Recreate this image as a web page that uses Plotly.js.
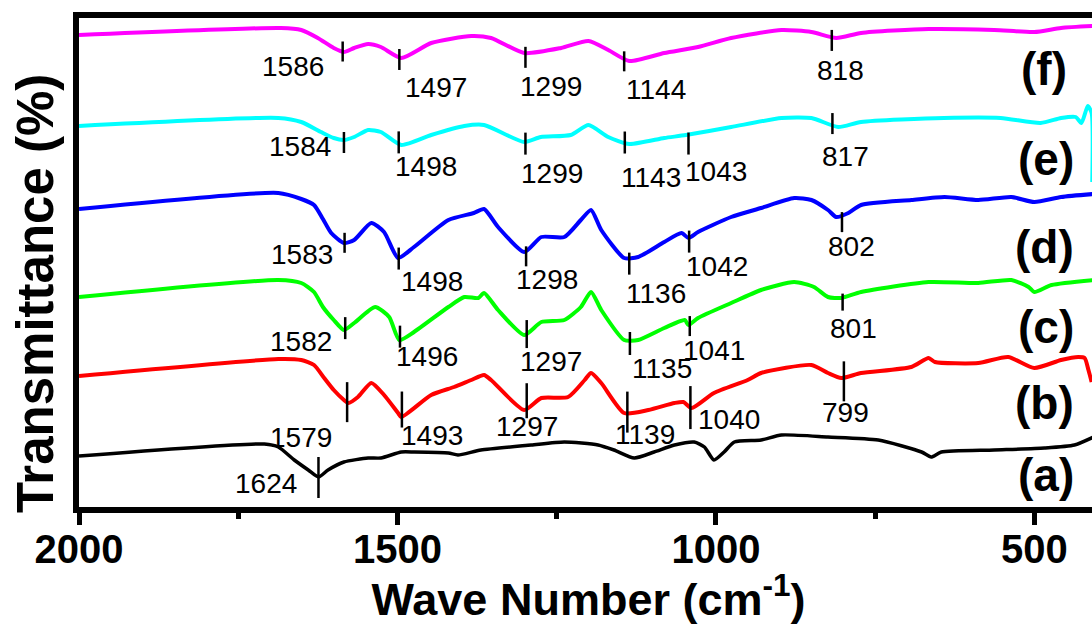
<!DOCTYPE html>
<html>
<head>
<meta charset="utf-8">
<script src="https://cdn.plot.ly/plotly-3.0.1.min.js"></script>
<style>
html,body{margin:0;padding:0;overflow:hidden;background:#fff;}
#chart{width:1100px;height:625px;}
</style>
</head>
<body>
<div id="chart"></div>
<script>
// ---------- DATA (wavenumber in cm-1, transmittance in offset arbitrary units) ----------
const wnA = [2000,1709,1687,1662,1640,1624,1609,1584,1546,1526,1494,1474,1420,1405,1369,1290,1238,1185,1160,1128,1097,1065,1034,1018,1003,987,971,929,897,824,745,677,662,646,563,484,437,407];
const tA  = [54,66,63,50,40,33,40,48,52,52,58,58,57,55,60,65,68,65,60,52,58,65,68,63,50,58,68,70,75,73,70,58,53,58,60,62,65,73];

const wnB = [2000,1687,1651,1631,1615,1600,1584,1577,1562,1541,1521,1499,1494,1447,1411,1384,1364,1353,1301,1274,1232,1206,1196,1180,1144,1106,1065,1051,1038,1003,950,929,850,824,803,772,693,666,656,588,541,500,458,431,421,415,410];
const tB  = [134,151,150,145,132,120,110,107,113,127,115,97,93,115,123,130,135,130,100,112,113,130,137,127,97,100,107,108,102,117,130,137,145,137,132,137,143,152,148,147,153,142,150,153,152,140,128];

const wnC = [2000,1687,1651,1631,1617,1600,1584,1568,1535,1513,1497,1474,1420,1395,1373,1364,1342,1301,1274,1238,1212,1196,1180,1144,1122,1081,1049,1043,1028,976,929,877,846,824,803,772,666,588,536,509,500,473,407];
const tC  = [213,230,227,218,203,190,180,187,203,193,170,178,203,213,212,217,200,175,188,190,203,218,200,170,170,182,190,185,192,207,220,228,223,213,212,218,228,227,230,223,218,225,230];

const wnD = [2000,1687,1651,1631,1617,1604,1584,1568,1541,1521,1499,1474,1420,1380,1364,1342,1301,1274,1238,1212,1196,1180,1144,1122,1081,1054,1043,1028,976,929,877,850,824,811,792,772,693,641,588,536,500,458,407];
const tD  = [301,317,311,305,291,277,267,270,287,278,252,263,290,297,301,283,258,273,273,290,300,280,252,253,268,277,272,278,293,302,312,310,300,293,297,305,310,313,310,313,308,313,316];

const wnE = [2000,1687,1651,1620,1600,1584,1568,1546,1526,1494,1447,1395,1364,1301,1275,1228,1200,1169,1136,1081,1047,976,897,850,808,772,642,553,490,458,435,426,416,410,409];
const tE  = [384,392,388,378,372,370,373,380,378,365,375,384,385,368,373,375,385,373,366,372,375,383,392,392,383,388,392,392,387,392,393,387,404,397,328];

const wnF = [2000,1683,1651,1625,1600,1584,1568,1546,1526,1494,1447,1384,1353,1301,1243,1200,1169,1136,1081,1028,976,897,850,811,772,666,563,500,458,407];
const tF  = [475,482,480,472,462,458,462,466,463,452,467,474,472,457,462,469,460,449,457,463,472,480,478,472,477,481,480,478,482,484];

const peaksA = [1624];
const peaksB = [1579,1493,1297,1139,1040,799];
const peaksC = [1582,1496,1297,1135,1041,801];
const peaksD = [1583,1498,1298,1136,1042,802];
const peaksE = [1584,1498,1299,1143,1043,817];
const peaksF = [1586,1497,1299,1144,818];

const seriesNames = ['(a)','(b)','(c)','(d)','(e)','(f)'];
const xTickVals = [2000,1500,1000,500];
const xTitle = 'Wave Number (cm<sup>-1</sup>)';
const yTitle = 'Transmittance (%)';

// ---------- STYLE / PLACEMENT ----------
const colors = ['#000000','#ff0000','#00ff00','#0000ff','#00ffff','#ff00ff'];
const widths = [3.5,4,4,4,4,4];
// per peak: [tick up, tick down, label anchor, label xshift, label yshift] (pixels, relative to curve)
const peakStyle = [
  [[20,21,'right',-19,-6]],
  [[20,20,'right',-13,-35],[25,11,'left',-3,-19],[25,10,'left',-33,-18],[21,20,'left',-14,-22],[21,22,'left',6,-12],[16,24,'center',2,-35]],
  [[12,10,'right',-11,-12],[14,8,'left',-6,-17],[13,15,'left',-9,-28],[8,15,'left',0,-28],[8,12,'left',-9,-26],[4,13,'center',11,-31]],
  [[10,10,'right',-10,-12],[10,12,'left',0,-24],[4,16,'left',-12,-29],[5,17,'left',-5,-36],[7,15,'left',-5,-29],[3,17,'center',10,-31]],
  [[8,13,'right',-11,-6],[12,10,'left',-6,-23],[9,13,'left',-6,-32],[11,11,'left',-6,-35],[2,20,'left',-5,-37],[12,9,'center',13,-31]],
  [[10,10,'right',-17,-15],[8,13,'left',4,-31],[6,15,'left',-7,-34],[7,13,'left',0,-31],[7,14,'center',9,-34]]
];
const nameY = [0.065,0.212,0.368,0.531,0.711,0.895]; // paper coords for (a)..(f)
const nameShift = [0,0,0,0,0,-7];

const FONT = 'Liberation Sans, Arial, Helvetica, sans-serif';

const allWn = [wnA,wnB,wnC,wnD,wnE,wnF];
const allT  = [tA,tB,tC,tD,tE,tF];
const allPeaks = [peaksA,peaksB,peaksC,peaksD,peaksE,peaksF];

function interp(xs, ys, x){
  for(let i=0;i<xs.length-1;i++){
    const a=xs[i], b=xs[i+1];
    if((a>=x && b<=x) || (a<=x && b>=x)){
      if(a===b) return ys[i];
      return ys[i] + (ys[i+1]-ys[i])*(x-a)/(b-a);
    }
  }
  return ys[ys.length-1];
}

const traces = [];
for(let s=0;s<6;s++){
  traces.push({x:allWn[s], y:allT[s], type:'scatter', mode:'lines',
    line:{color:colors[s], width:widths[s], shape:'spline', smoothing:0.6},
    hoverinfo:'skip', showlegend:false});
}

const tx=[], ty=[];
const annotations=[];
for(let s=0;s<6;s++){
  allPeaks[s].forEach((p,i)=>{
    const st = peakStyle[s][i];
    const yc = interp(allWn[s], allT[s], p);
    tx.push(p,p,null); ty.push(yc+st[0], yc-st[1], null);
    annotations.push({x:p, y:yc, xref:'x', yref:'y', text:String(p), showarrow:false,
      xanchor:st[2], yanchor:'middle', xshift:st[3], yshift:st[4],
      font:{family:FONT, size:28, color:'#000'}});
  });
  annotations.push({x:0.978, y:nameY[s], xref:'paper', yref:'paper', text:seriesNames[s],
    showarrow:false, xanchor:'right', yanchor:'middle', xshift:nameShift[s],
    font:{family:FONT, size:46, color:'#000', weight:'bold'}});
}
// y-axis title (placed as rotated annotation to match offset position)
annotations.push({x:-0.042, y:0.436, xref:'paper', yref:'paper', text:yTitle, textangle:-90,
  showarrow:false, xanchor:'center', yanchor:'middle',
  font:{family:FONT, size:51, color:'#000', weight:'bold'}});

traces.push({x:tx, y:ty, type:'scatter', mode:'lines', line:{color:'#000', width:2.5},
  hoverinfo:'skip', showlegend:false});

const layout = {
  width:1100, height:625,
  margin:{l:79, r:2, t:18, b:118},
  paper_bgcolor:'#fff', plot_bgcolor:'#fff',
  showlegend:false,
  xaxis:{
    range:[2000,400], tickvals:xTickVals, ticktext:xTickVals.map(String),
    ticks:'outside', ticklen:12, tickwidth:5, tickcolor:'#000',
    ticklabelstandoff:-10,
    minor:{dtick:250, tick0:0, ticks:'outside', ticklen:6, tickwidth:5, tickcolor:'#000'},
    showline:true, linewidth:6, linecolor:'#000', mirror:true,
    showgrid:false, zeroline:false,
    tickfont:{family:FONT, size:40, color:'#000', weight:'bold'},
    title:{text:xTitle, font:{family:FONT, size:45, color:'#000', weight:'bold'}, standoff:4}
  },
  yaxis:{
    range:[3,492], showticklabels:false, ticks:'',
    showline:true, linewidth:6, linecolor:'#000', mirror:true,
    showgrid:false, zeroline:false
  },
  annotations:annotations
};

Plotly.newPlot('chart', traces, layout, {staticPlot:true, displayModeBar:false});
</script>
</body>
</html>
